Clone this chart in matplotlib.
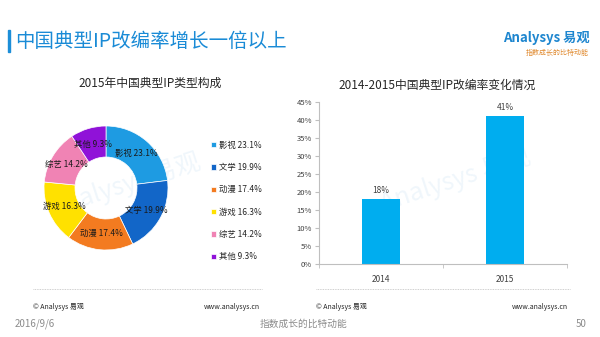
import matplotlib
matplotlib.use("Agg")
import matplotlib.pyplot as plt
import matplotlib.patches as mpatches

plt.rcParams["font.family"] = ["Noto Sans CJK SC", "DejaVu Sans"]

# data
ip_types = ["影视", "文学", "动漫", "游戏", "综艺", "其他"]
ip_shares = [23.1, 19.9, 17.4, 16.3, 14.2, 9.3]
ip_colors = ["#1E9BE2", "#1266C8", "#F37B20", "#FFE100", "#F083B4", "#9012D8"]

years = ["2014", "2015"]
adapt_rate = [18, 41]
y_ticks = list(range(0, 50, 5))

W, H = 600, 337
fig = plt.figure(figsize=(W / 100, H / 100), dpi=100)
fig.patch.set_facecolor("white")

# overlay axes in pixel coordinates (y down)
ov = fig.add_axes([0, 0, 1, 1])
ov.set_xlim(0, W)
ov.set_ylim(H, 0)
ov.axis("off")
ov.patch.set_alpha(0)

# header
ov.add_patch(mpatches.Rectangle((8, 30), 2.2, 22, color="#1C8ED8"))
ov.text(15, 41, "中国典型IP改编率增长一倍以上", fontsize=14, color="#1A8BD6",
        va="center", ha="left")
ov.text(590, 38, "Analysys 易观", fontsize=9.5, color="#1E86CF", ha="right",
        va="center", style="italic", fontweight="bold")
ov.text(589, 53, "指数成长的比特动能", fontsize=5, color="#E08A30", ha="right",
        va="center")

# chart titles
ov.text(150, 83, "2015年中国典型IP类型构成", fontsize=8.5, color="#262626",
        ha="center", va="center")
ov.text(437, 85, "2014-2015中国典型IP改编率变化情况", fontsize=8.5,
        color="#262626", ha="center", va="center")

# watermarks
ov.text(125, 185, "Analysys 易观", fontsize=18, color="#1E86CF", alpha=0.07,
        rotation=18, ha="center", va="center", style="italic", zorder=0)
ov.text(455, 180, "Analysys 易观", fontsize=18, color="#1E86CF", alpha=0.07,
        rotation=18, ha="center", va="center", style="italic", zorder=0)

# footer
for x0, x1 in [(33, 262), (316, 570)]:
    ov.plot([x0, x1], [288.5, 288.5], color="#BFBFBF", lw=0.6, ls=(0, (1, 1)))
for x0, x1 in [(33, 260), (316, 568)]:
    ov.text(x0, 307, "© Analysys 易观", fontsize=5, color="#262626",
            ha="left", va="center")
    ov.text(x1, 307, "www.analysys.cn", fontsize=5, color="#262626",
            ha="right", va="center")
ov.text(15, 324, "2016/9/6", fontsize=7, color="#8C8C8C", ha="left", va="center")
ov.text(304, 324, "指数成长的比特动能", fontsize=7, color="#8C8C8C",
        ha="center", va="center")
ov.text(587, 324, "50", fontsize=7, color="#8C8C8C", ha="right", va="center")

# donut chart
cx, cy, r = 106, 188, 62
side = 2.5 * r
pax = fig.add_axes([(cx - side / 2) / W, (H - cy - side / 2) / H, side / W, side / H])
labels = [f"{t} {v}%" for t, v in zip(ip_types, ip_shares)]
wedges, texts = pax.pie(ip_shares, colors=ip_colors, startangle=90,
                        counterclock=False, labels=labels, labeldistance=0.74,
                        wedgeprops=dict(width=0.5, edgecolor="white", linewidth=0.5),
                        textprops=dict(fontsize=6, color="#1A1A1A",
                                       ha="center", va="center"))
for t in texts:
    t.set_ha("center")
pax.set_aspect("equal")

fig.legend(wedges, labels, loc="upper left",
           bbox_to_anchor=(203 / W, (H - 133) / H), frameon=False,
           fontsize=6, handlelength=0.6, handleheight=0.6,
           handletextpad=0.4, labelspacing=1.6, labelcolor="#262626")

# bar chart
bax = fig.add_axes([319 / W, (H - 264) / H, 248 / W, 162 / H])
xs = range(len(years))
bars = bax.bar(xs, adapt_rate, width=0.31, color="#00ADEF")
for b, v in zip(bars, adapt_rate):
    bax.text(b.get_x() + b.get_width() / 2, v + 1.2, f"{v}%", ha="center",
             va="bottom", fontsize=6, color="#404040")
bax.set_xlim(-0.5, 1.5)
bax.set_ylim(0, 45)
bax.set_yticks(y_ticks)
bax.set_yticklabels([f"{t}%" for t in y_ticks])
bax.set_xticks(list(xs))
bax.set_xticklabels(years)
bax.set_xticks([-0.5, 0.5, 1.5], minor=True)
bax.tick_params(axis="x", which="major", length=0, labelsize=6,
                labelcolor="#404040", pad=8)
bax.tick_params(axis="x", which="minor", length=3, color="#BFBFBF")
bax.tick_params(axis="y", length=3, color="#BFBFBF", labelsize=5.5,
                labelcolor="#404040", pad=2)
for s in ["top", "right"]:
    bax.spines[s].set_visible(False)
for s in ["left", "bottom"]:
    bax.spines[s].set_color("#BFBFBF")
    bax.spines[s].set_linewidth(0.8)
bax.patch.set_alpha(0)

fig.savefig("out.png", dpi=100)
